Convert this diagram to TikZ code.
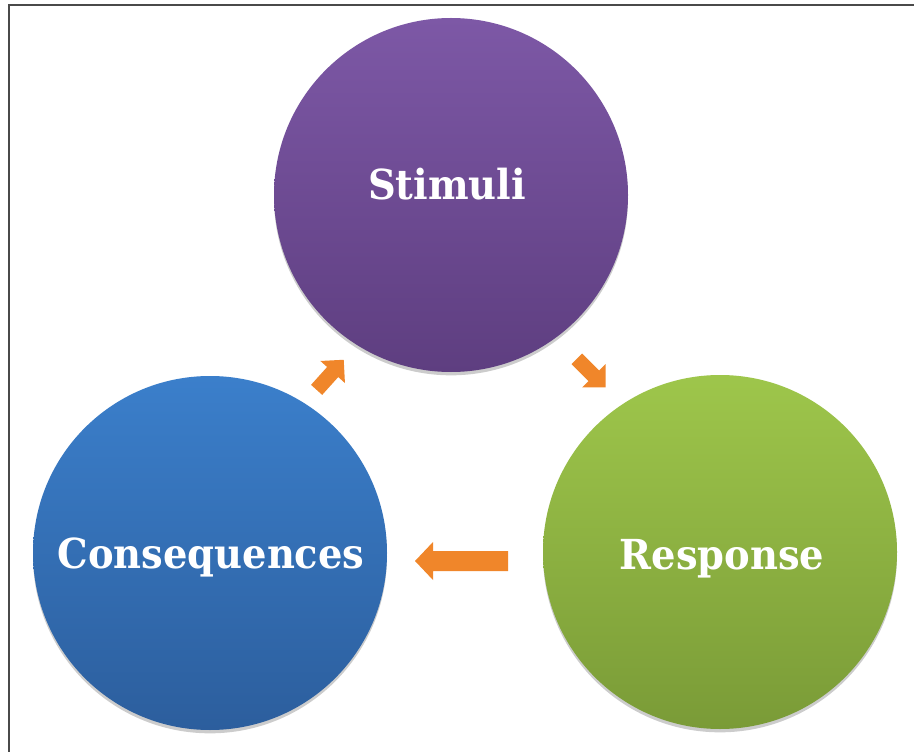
\documentclass[tikz,border=0pt]{standalone}
\usepackage{fontspec}
\newfontfamily\cyclefont[FakeStretch=0.93]{DejaVu Serif}
\usetikzlibrary{shadows}
\definecolor{purpleTop}{HTML}{7D58A6}
\definecolor{purpleBot}{HTML}{5E3E80}
\definecolor{blueTop}{HTML}{3B7FCB}
\definecolor{blueBot}{HTML}{2C5E9D}
\definecolor{greenTop}{HTML}{9EC64B}
\definecolor{greenBot}{HTML}{7A9B37}
\definecolor{arrowOrange}{HTML}{F0862A}
\definecolor{frameGray}{HTML}{4A4A4A}
\tikzset{
  ball/.style={circle, minimum size=265.5pt, inner sep=0pt,
    drop shadow={shadow xshift=0pt, shadow yshift=-2.5pt, opacity=0.2, fill=black}},
  caption/.style={anchor=base, text=white, font=\cyclefont\bfseries\fontsize{31}{36}\selectfont},
  framing/.style={draw=frameGray, line width=1.5pt},
  % block arrows pointing along +x, centred on the origin (units are pixels)
  pics/bigarrow/.style={code={
    \fill[arrowOrange] (-46.5,-10) -- (28.5,-10) -- (28.5,-19) -- (46.5,0)
      -- (28.5,19) -- (28.5,10) -- (-46.5,10) -- cycle;
  }},
  pics/smallarrow/.style={code={
    \fill[arrowOrange] (-20,-7.5) -- (4,-7.5) -- (4,-16.5) -- (20.5,0)
      -- (4,16.5) -- (4,7.5) -- (-20,7.5) -- cycle;
  }}
}
\begin{document}
\begin{tikzpicture}[x=0.75pt, y=-0.75pt]
  % canvas and open frame
  \useasboundingbox (0,0) rectangle (914,752);
  \fill[white] (0,0) rectangle (914,752);
  \coordinate (frameBL) at (8.5,752);
  \coordinate (frameTL) at (8.5,5.5);
  \coordinate (frameTR) at (914,5.5);
  \draw[framing] (frameBL) -- (frameTL) -- (frameTR);

  % the three stages
  \node[ball, top color=purpleTop, bottom color=purpleBot] (stimuli) at (451,195) {};
  \node[ball, top color=blueTop, bottom color=blueBot] (consequences) at (210,553) {};
  \node[ball, top color=greenTop, bottom color=greenBot] (response) at (720,552) {};

  \node[caption] (stimuliText) at (447,200) {Stimuli};
  \node[caption] (consequencesText) at (211,568) {Consequences};
  \node[caption] (responseText) at (722,569) {Response};

  % block arrows between the stages
  \pic[rotate=-45] (arrowSR) at (591,373) {smallarrow};
  \pic[rotate=180] (arrowRC) at (461.5,561) {bigarrow};
  \pic[rotate=48] (arrowCS) at (330,375) {smallarrow};
\end{tikzpicture}
\end{document}
